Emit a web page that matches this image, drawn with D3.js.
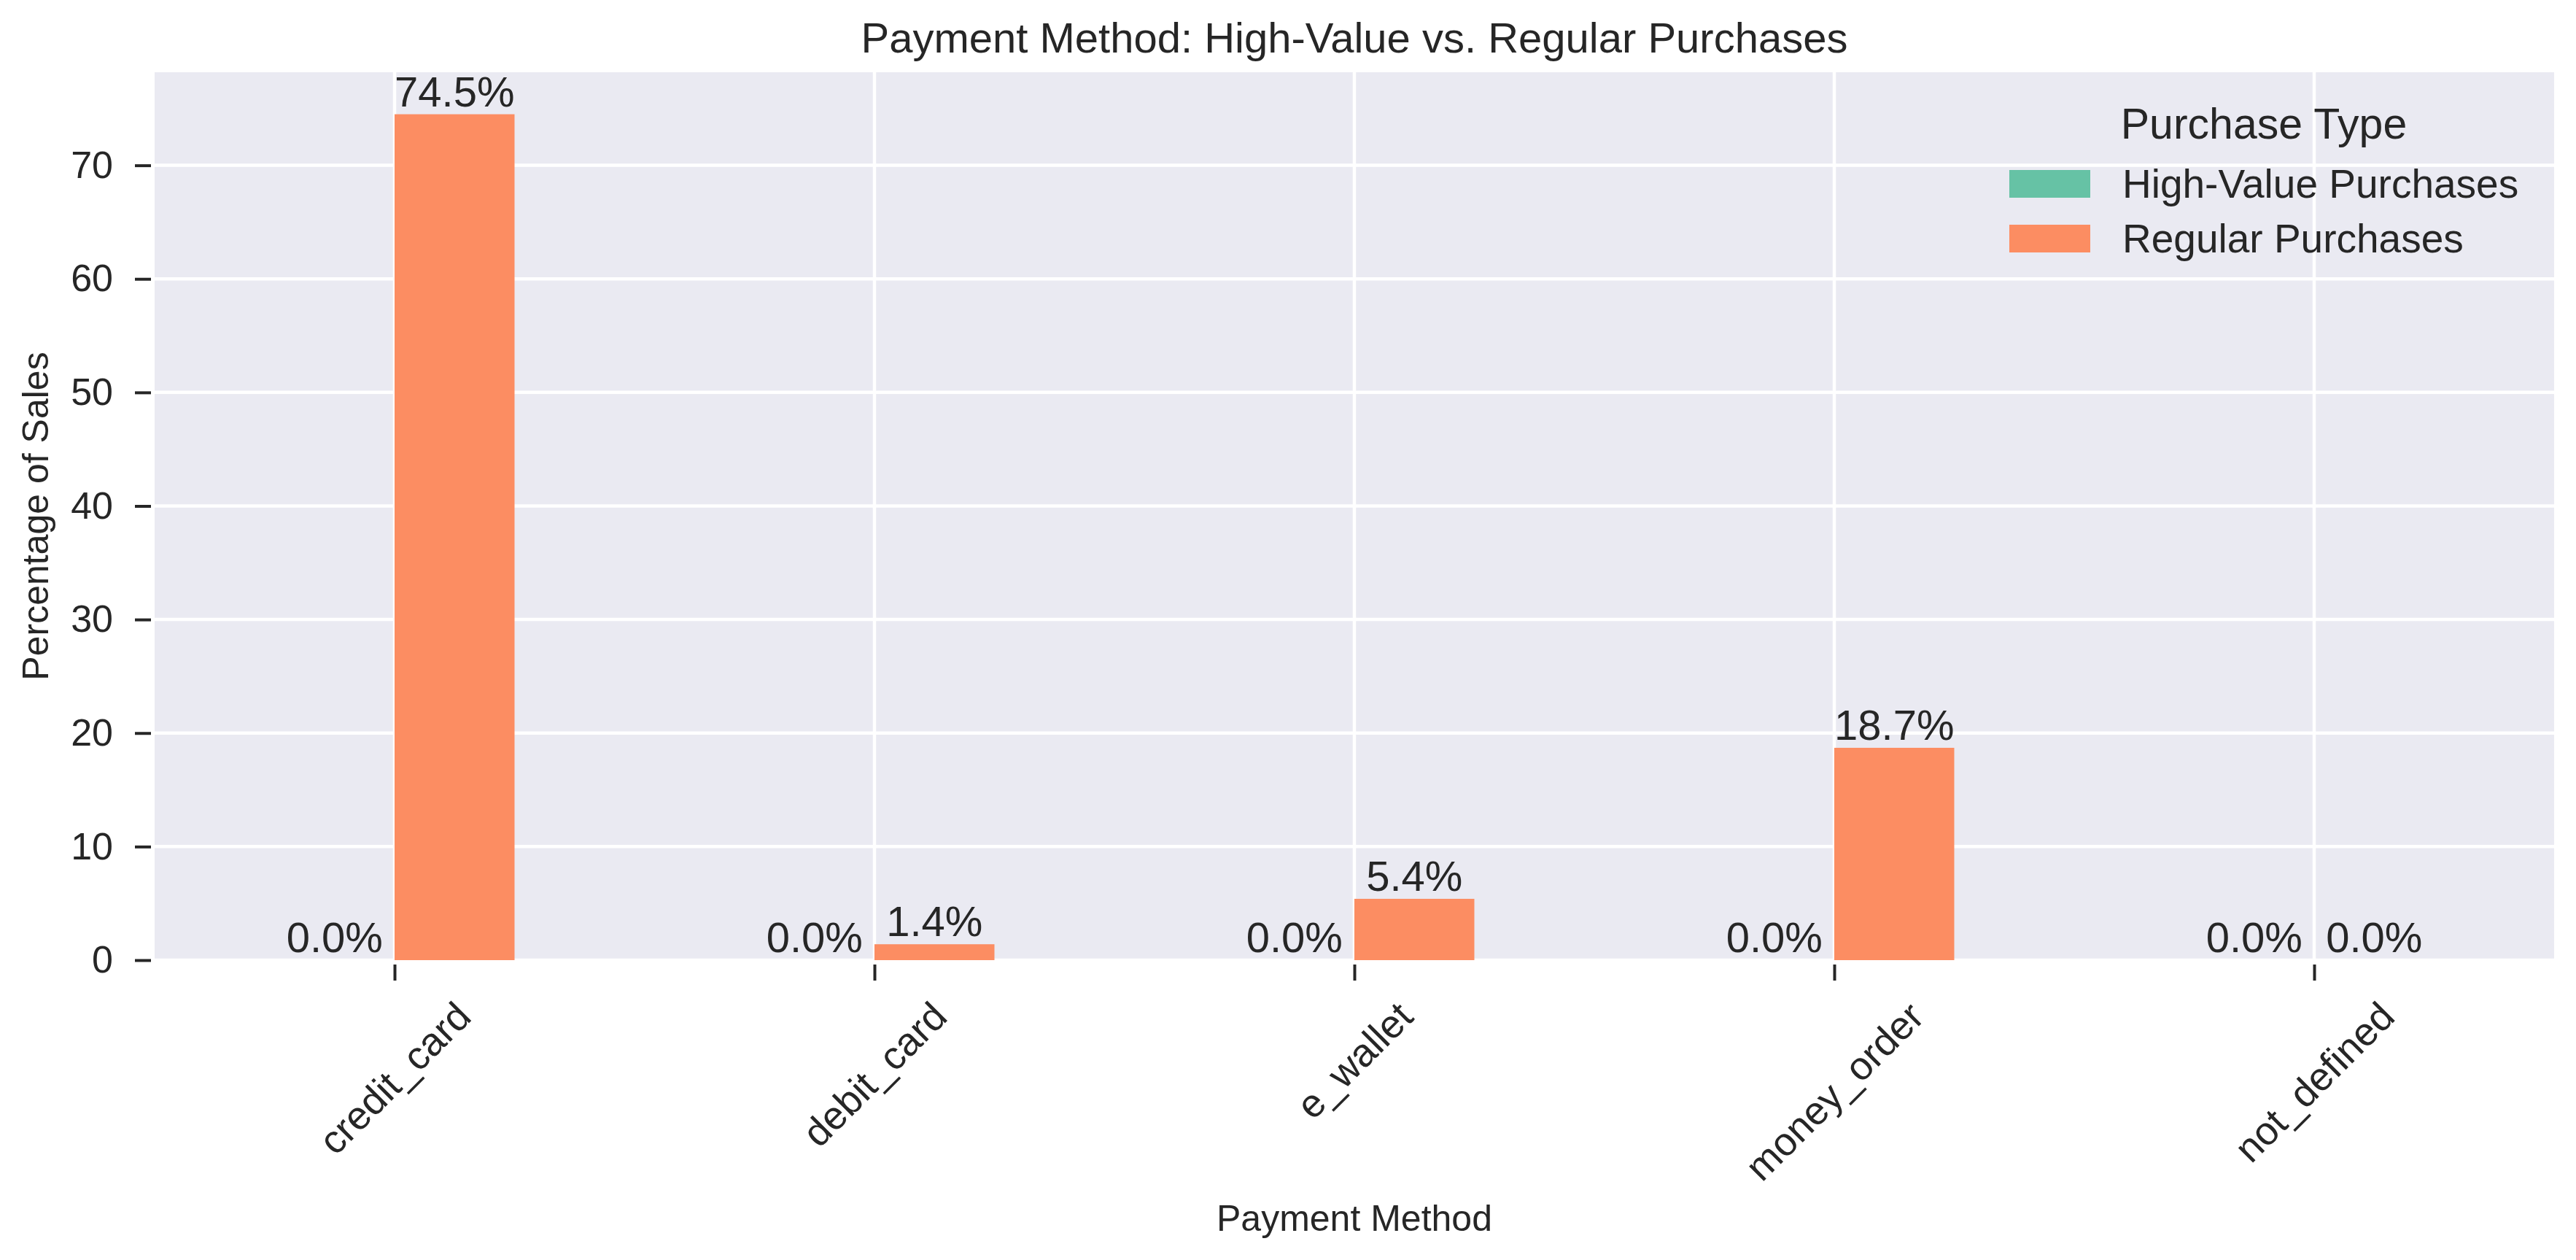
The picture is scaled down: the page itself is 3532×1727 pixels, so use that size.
<!DOCTYPE html>
<html>
<head>
<meta charset="utf-8">
<script src="https://cdn.jsdelivr.net/npm/d3@7"></script>
<style>
  body { margin: 0; background: #fff; }
  svg text { font-family: "Liberation Sans", Arial, sans-serif; fill: #262626; }
</style>
</head>
<body>
<svg id="chart"></svg>
<script>
// data
const methods = ["credit_card", "debit_card", "e_wallet", "money_order", "not_defined"];
const highValue = [0.0, 0.0, 0.0, 0.0, 0.0];
const regular = [74.5, 1.4, 5.4, 18.7, 0.0];
const seriesNames = ["High-Value Purchases", "Regular Purchases"];
const seriesColors = ["#66c2a5", "#fc8d62"];
const yTicks = [0, 10, 20, 30, 40, 50, 60, 70];

const width = 3532, height = 1727;
const plot = { left: 212, right: 3502, top: 99, bottom: 1316 };
const barW = 0.25;

const svg = d3.select("#chart")
  .attr("width", width)
  .attr("height", height);

const x = d3.scaleLinear().domain([-0.5, methods.length - 0.5]).range([plot.left, plot.right]);
const y = d3.scaleLinear().domain([0, 78.2]).range([plot.bottom, plot.top]);

// background
svg.append("rect")
  .attr("x", plot.left).attr("y", plot.top)
  .attr("width", plot.right - plot.left).attr("height", plot.bottom - plot.top)
  .attr("fill", "#eaeaf2");

// grid
const grid = svg.append("g").attr("stroke", "#fff").attr("stroke-width", 4.5);
grid.selectAll(".hg").data(yTicks).enter().append("line")
  .attr("x1", plot.left).attr("x2", plot.right)
  .attr("y1", d => y(d)).attr("y2", d => y(d));
grid.selectAll(".vg").data(methods).enter().append("line")
  .attr("x1", (d, i) => x(i)).attr("x2", (d, i) => x(i))
  .attr("y1", plot.top).attr("y2", plot.bottom);

// bars
const series = [highValue, regular];
const fmt = d3.format(".1f");
series.forEach(function(vals, s) {
  const g = svg.append("g");
  const x0 = i => s === 0 ? x(i - barW) : x(i);
  g.selectAll("rect").data(vals).enter().append("rect")
    .attr("x", (d, i) => x0(i))
    .attr("width", x(barW) - x(0))
    .attr("y", d => y(d))
    .attr("height", d => y(0) - y(d))
    .attr("fill", seriesColors[s]);
  g.selectAll("text").data(vals).enter().append("text")
    .attr("x", (d, i) => x0(i) + (x(barW) - x(0)) / 2)
    .attr("y", d => y(d) - 11)
    .attr("text-anchor", "middle")
    .attr("font-size", 58)
    .text(d => fmt(d) + "%");
});

// y axis
const yAxis = svg.append("g")
  .attr("transform", "translate(" + (plot.left - 5) + ",0)")
  .call(d3.axisLeft(y).tickValues(yTicks).tickSize(22).tickPadding(30));
yAxis.select(".domain").remove();
yAxis.selectAll("line").attr("stroke", "#262626").attr("stroke-width", 4);
yAxis.selectAll("text").attr("font-size", 52).attr("fill", "#262626");

// x axis ticks
const xAxis = svg.append("g")
  .attr("transform", "translate(0," + (plot.bottom + 6) + ")")
  .call(d3.axisBottom(x).tickValues(d3.range(methods.length)).tickSize(22).tickFormat(""));
xAxis.select(".domain").remove();
xAxis.selectAll("line").attr("stroke", "#262626").attr("stroke-width", 4);

// rotated category labels, bbox centred on the tick
const labelTop = plot.bottom + 46;
methods.forEach(function(m, i) {
  const g = svg.append("g");
  const t = g.append("text")
    .attr("font-size", 54)
    .attr("text-anchor", "middle")
    .attr("dy", "0.35em")
    .text(m);
  const bb = t.node().getBBox();
  const rotH = (bb.width + bb.height) / Math.SQRT2;
  g.attr("transform", "translate(" + x(i) + "," + (labelTop + rotH / 2) + ") rotate(-45)");
});

// axis titles
svg.append("text")
  .attr("x", (plot.left + plot.right) / 2).attr("y", 1687)
  .attr("text-anchor", "middle").attr("font-size", 50)
  .text("Payment Method");
svg.append("text")
  .attr("transform", "translate(66," + (plot.top + plot.bottom) / 2 + ") rotate(-90)")
  .attr("text-anchor", "middle").attr("font-size", 50)
  .text("Percentage of Sales");

// title
svg.append("text")
  .attr("x", (plot.left + plot.right) / 2).attr("y", 72)
  .attr("text-anchor", "middle").attr("font-size", 58)
  .text("Payment Method: High-Value vs. Regular Purchases");

// legend
const legend = svg.append("g");
legend.append("text")
  .attr("x", 3104).attr("y", 190)
  .attr("text-anchor", "middle").attr("font-size", 59)
  .text("Purchase Type");
const items = legend.selectAll(".item").data(seriesNames).enter().append("g")
  .attr("transform", (d, i) => "translate(0," + (252 + i * 75) + ")");
items.append("rect")
  .attr("x", 2755).attr("y", -19).attr("width", 111).attr("height", 38)
  .attr("fill", (d, i) => seriesColors[i]);
items.append("text")
  .attr("x", 2910).attr("y", 19)
  .attr("font-size", 55)
  .text(d => d);
</script>
</body>
</html>
